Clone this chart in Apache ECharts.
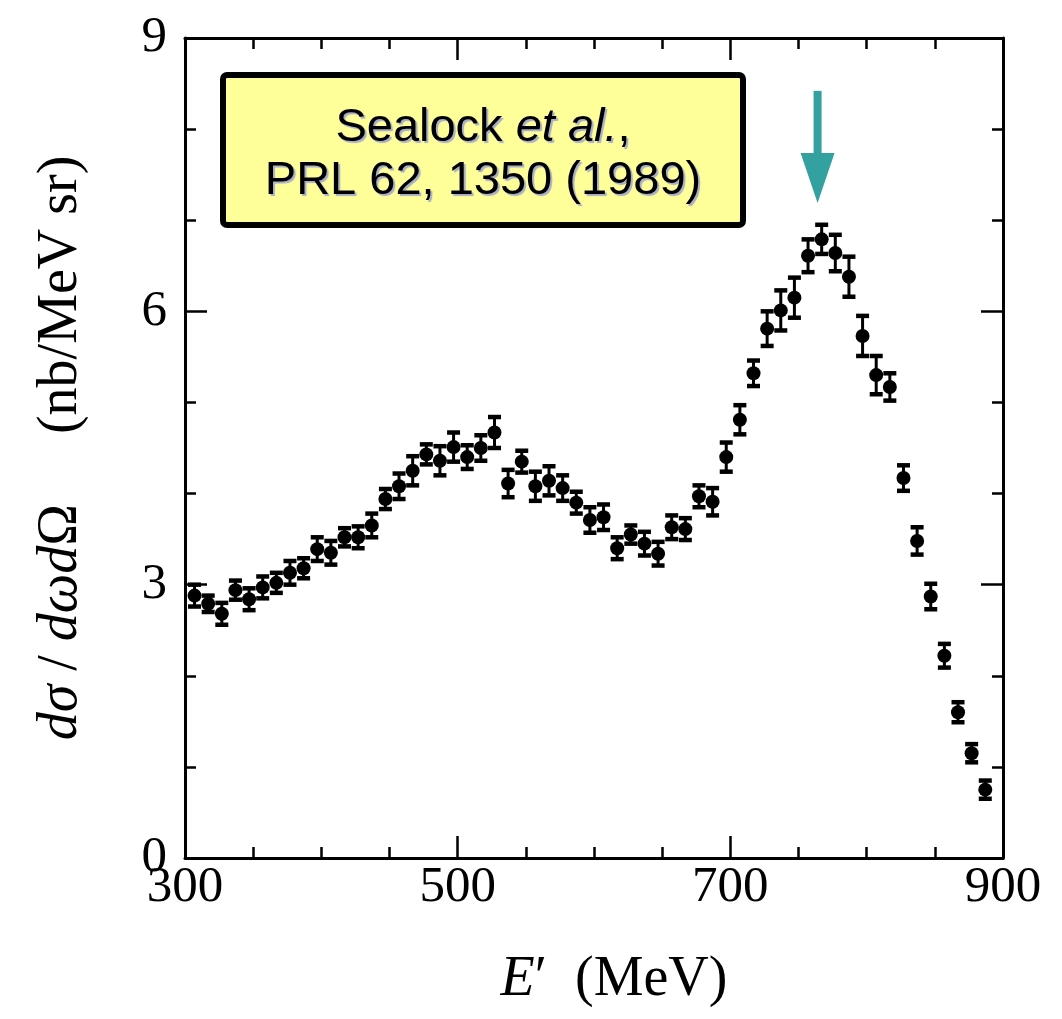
<!DOCTYPE html>
<html>
<head>
<meta charset="utf-8">
<script src="https://cdn.jsdelivr.net/npm/echarts@6/dist/echarts.min.js"></script>
<style>html,body{margin:0;padding:0;background:#fff}#c{width:1062px;height:1019px}</style>
</head>
<body>
<div id="c"></div>
<script>
// Data
const energies = [307,317,327,337,347,357,367,377,387,397,407,417,427,437,447,457,467,477,487,497,507,517,527,537,547,557,567,577,587,597,607,617,627,637,647,657,667,677,687,697,707,717,727,737,747,757,767,777,787,797,807,817,827,837,847,857,867,877,887];
const crossSections = [2.88,2.79,2.68,2.94,2.84,2.97,3.02,3.13,3.18,3.39,3.35,3.52,3.52,3.65,3.94,4.08,4.25,4.43,4.36,4.51,4.40,4.50,4.67,4.11,4.35,4.08,4.14,4.06,3.90,3.71,3.74,3.40,3.55,3.45,3.34,3.63,3.61,3.97,3.91,4.40,4.81,5.32,5.81,6.01,6.15,6.61,6.79,6.64,6.38,5.73,5.30,5.17,4.17,3.48,2.87,2.22,1.60,1.15,0.75];
const errors = [0.12,0.09,0.12,0.105,0.12,0.12,0.11,0.13,0.11,0.13,0.13,0.10,0.12,0.13,0.11,0.14,0.16,0.11,0.16,0.16,0.13,0.14,0.17,0.15,0.12,0.16,0.16,0.14,0.12,0.14,0.14,0.12,0.10,0.13,0.13,0.13,0.12,0.12,0.15,0.16,0.16,0.14,0.19,0.22,0.22,0.18,0.16,0.20,0.22,0.22,0.21,0.15,0.14,0.15,0.14,0.13,0.11,0.10,0.10];
const xTicks = [300,500,700,900];
const yTicks = [0,3,6,9];
// arrow annotation: [x, top y, tip y]
const arrowPos = [764, 8.42, 7.19];
const boxLine1 = 'Sealock ';
const boxItalic = 'et al.';
const boxLine2 = 'PRL 62, 1350 (1989)';

const serif = 'Liberation Serif';
const chart = echarts.init(document.getElementById('c'));

const points = energies.map((e,i)=>[e, crossSections[i]]);
const bars = energies.map((e,i)=>[e, crossSections[i]-errors[i], crossSections[i]+errors[i]]);

function axisCommon(showLabel){
  return {
    axisLine:{show:true, onZero:false, lineStyle:{color:'#000', width:3}},
    axisTick:{show:true, inside:true, length:22, lineStyle:{color:'#000', width:2.5}},
    minorTick:{show:true, length:11, lineStyle:{color:'#000', width:2.5}},
    splitLine:{show:false},
    minorSplitLine:{show:false},
    axisLabel:{show:showLabel, color:'#000', fontFamily:serif, fontSize:51}
  };
}

const xBase = (pos, lbl) => Object.assign(axisCommon(lbl), {
  type:'value', min:300, max:900, interval:200, position:pos,
});
const yBase = (pos, lbl) => Object.assign(axisCommon(lbl), {
  type:'value', min:0, max:9, interval:3, position:pos,
});

const nameStyle = (pad) => ({fontFamily:serif, fontSize:56, color:'#000', padding:pad,
  rich:{i:{fontFamily:serif, fontStyle:'italic', fontSize:56, color:'#000'},
        n:{fontFamily:serif, fontSize:56, color:'#000'}}});

const x0 = xBase('bottom', true);
x0.minorTick.splitNumber = 4;
x0.axisLabel.margin = 4;
x0.axisLabel.formatter = v => xTicks.includes(v) ? String(v) : '';
x0.name = '{i|E}′  (MeV)';
x0.nameLocation = 'middle';
x0.nameGap = 94;
x0.nameTextStyle = nameStyle([0,0,0,40]);
const x1 = xBase('top', false);
x1.minorTick.splitNumber = 4;

const y0 = yBase('left', true);
y0.minorTick.splitNumber = 3;
y0.axisLabel.margin = 18;
y0.axisLabel.formatter = v => yTicks.includes(v) ? String(v) : '';
y0.name = '{i|dσ} / {i|dωd}Ω     (nb/MeV sr)';
y0.nameLocation = 'middle';
y0.nameRotate = 90;
y0.nameGap = 96;
y0.nameTextStyle = nameStyle(0);
const y1 = yBase('right', false);
y1.minorTick.splitNumber = 3;

const shadow = {textShadowColor:'#a8aec8', textShadowOffsetX:2, textShadowOffsetY:2, textShadowBlur:1};

chart.setOption({
  animation:false,
  backgroundColor:'#fff',
  grid:{left:185, right:59, top:38, bottom:161, containLabel:false},
  xAxis:[x0, x1],
  yAxis:[y0, y1],
  series:[
    {
      type:'custom', xAxisIndex:0, yAxisIndex:0, data:bars, z:3,
      renderItem:function(params, api){
        const p1 = api.coord([api.value(0), api.value(1)]);
        const p2 = api.coord([api.value(0), api.value(2)]);
        const hw = 6.5;
        const st = {stroke:'#000', lineWidth:3};
        const cap = {stroke:'#000', lineWidth:4.5};
        return {type:'group', children:[
          {type:'line', shape:{x1:p1[0], y1:p1[1], x2:p2[0], y2:p2[1]}, style:st},
          {type:'line', shape:{x1:p1[0]-hw, y1:p1[1], x2:p1[0]+hw, y2:p1[1]}, style:cap},
          {type:'line', shape:{x1:p2[0]-hw, y1:p2[1], x2:p2[0]+hw, y2:p2[1]}, style:cap}
        ]};
      }
    },
    {
      type:'scatter', xAxisIndex:0, yAxisIndex:0, data:points, symbol:'circle', symbolSize:14,
      itemStyle:{color:'#000', opacity:1}, z:4
    },
    {
      type:'custom', xAxisIndex:0, yAxisIndex:0, data:[arrowPos], z:5,
      renderItem:function(params, api){
        const top = api.coord([api.value(0), api.value(1)]);
        const tip = api.coord([api.value(0), api.value(2)]);
        const headLen = 50, headHalf = 17, shaftHalf = 4;
        const baseY = tip[1] - headLen;
        const c = '#33a19f';
        return {type:'group', children:[
          {type:'rect', shape:{x:top[0]-shaftHalf, y:top[1], width:shaftHalf*2, height:baseY-top[1]+1}, style:{fill:c}},
          {type:'polygon', shape:{points:[[tip[0]-headHalf, baseY],[tip[0]+headHalf, baseY],[tip[0], tip[1]]]}, style:{fill:c}}
        ]};
      }
    }
  ],
  graphic:[
    {type:'rect', shape:{x:223, y:75, width:520, height:150, r:4}, z:10,
      style:{fill:'#ffff99', stroke:'#000', lineWidth:6}},
    {type:'text', x:483, y:128, z:11,
      style:{text:'{n|'+boxLine1+'}{it|'+boxItalic+'}{n|,}', align:'center', verticalAlign:'middle',
        rich:{
          n:Object.assign({fontFamily:'Liberation Sans', fontSize:47, fill:'#000'}, shadow),
          it:Object.assign({fontFamily:'Liberation Sans', fontStyle:'italic', fontSize:47, fill:'#000'}, shadow)
        }}},
    {type:'text', x:483, y:181, z:11,
      style:Object.assign({text:boxLine2, align:'center', verticalAlign:'middle', fontFamily:'Liberation Sans', fontSize:47, fill:'#000'}, shadow)}
  ]
});
</script>
</body>
</html>
